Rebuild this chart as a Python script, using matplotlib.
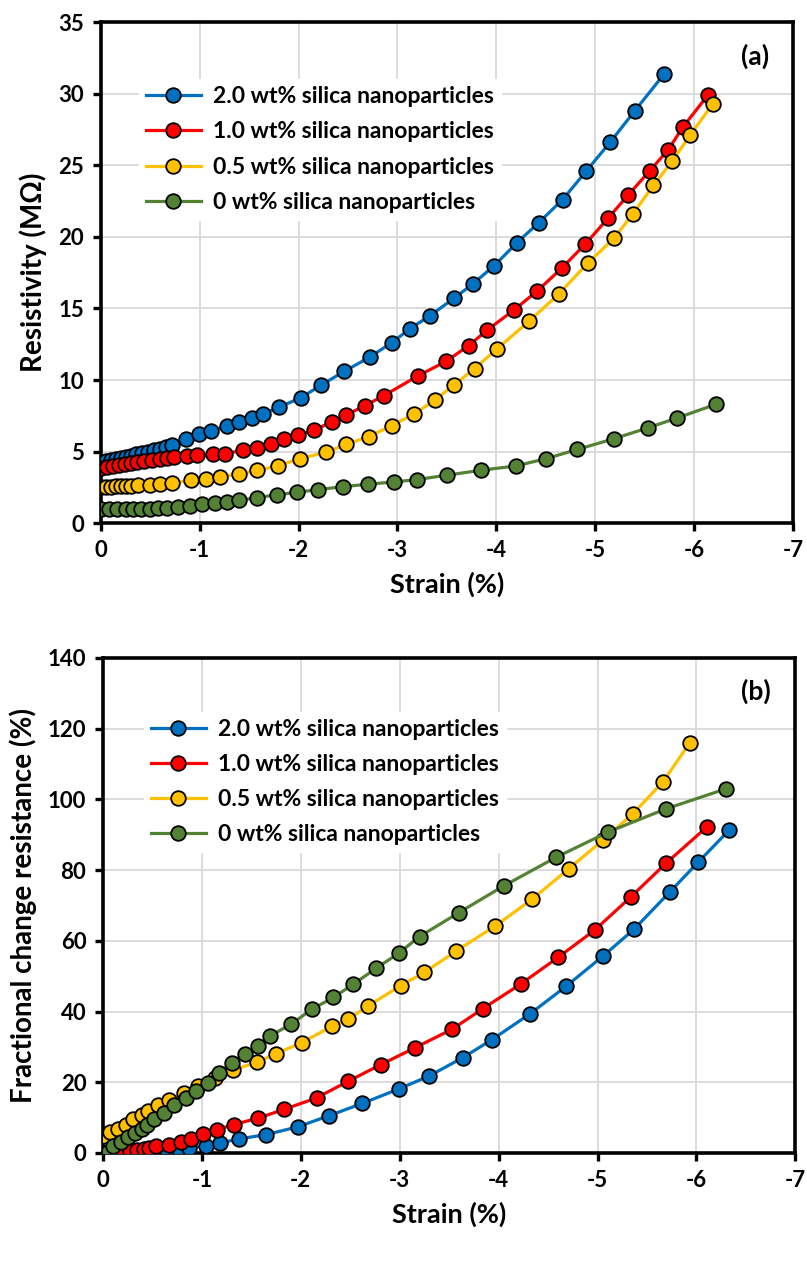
# Resistivity and fractional change in resistance vs. compressive strain
import matplotlib
matplotlib.use("Agg")
import matplotlib.pyplot as plt

plt.rcParams['font.family'] = ['Lato', 'DejaVu Sans']
plt.rcParams['font.weight'] = 'bold'
plt.rcParams['axes.unicode_minus'] = False

labels = ["2.0 wt% silica nanoparticles", "1.0 wt% silica nanoparticles",
          "0.5 wt% silica nanoparticles", "0 wt% silica nanoparticles"]
colors = ["#0070C0", "#FF0000", "#FFC000", "#548235"]

# ---- panel (a): resistivity (MOhm) ----
a_strain_20 = [0, -0.05, -0.1, -0.15, -0.2, -0.25, -0.3, -0.36, -0.42, -0.48, -0.54, -0.6,
               -0.66, -0.72, -0.86, -0.99, -1.11, -1.28, -1.4, -1.53, -1.64, -1.8, -2.02,
               -2.23, -2.46, -2.72, -2.94, -3.13, -3.33, -3.57, -3.76, -3.98, -4.21, -4.43,
               -4.67, -4.91, -5.15, -5.4, -5.7]
a_res_20 = [4.25, 4.32, 4.4, 4.48, 4.55, 4.63, 4.72, 4.8, 4.9, 5.0, 5.1, 5.2, 5.32, 5.44,
            5.86, 6.2, 6.45, 6.76, 7.04, 7.33, 7.64, 8.1, 8.75, 9.65, 10.6, 11.6, 12.6,
            13.6, 14.5, 15.7, 16.7, 18.0, 19.6, 21.0, 22.6, 24.6, 26.6, 28.8, 31.4]

a_strain_10 = [0, -0.06, -0.12, -0.18, -0.24, -0.3, -0.37, -0.44, -0.52, -0.6, -0.67, -0.74,
               -0.87, -0.97, -1.13, -1.26, -1.44, -1.58, -1.72, -1.85, -1.99, -2.16, -2.34,
               -2.48, -2.67, -2.86, -3.21, -3.49, -3.72, -3.91, -4.18, -4.41, -4.66, -4.9,
               -5.13, -5.33, -5.55, -5.74, -5.89, -6.14]
a_res_10 = [3.85, 3.9, 3.97, 4.03, 4.1, 4.17, 4.25, 4.33, 4.4, 4.47, 4.55, 4.63, 4.68, 4.73,
            4.8, 4.85, 5.1, 5.25, 5.5, 5.86, 6.15, 6.5, 7.1, 7.56, 8.2, 8.9, 10.3, 11.3,
            12.4, 13.5, 14.9, 16.2, 17.8, 19.5, 21.3, 22.9, 24.6, 26.1, 27.7, 29.9]

a_strain_05 = [0, -0.05, -0.1, -0.15, -0.2, -0.25, -0.3, -0.38, -0.5, -0.6, -0.72, -0.91,
               -1.06, -1.2, -1.4, -1.58, -1.79, -2.01, -2.28, -2.48, -2.71, -2.94, -3.17,
               -3.38, -3.57, -3.78, -4.01, -4.33, -4.63, -4.93, -5.19, -5.38, -5.59, -5.78,
               -5.96, -6.19]
a_res_05 = [2.55, 2.55, 2.56, 2.57, 2.58, 2.6, 2.62, 2.65, 2.7, 2.74, 2.8, 3.0, 3.12, 3.25,
            3.43, 3.69, 4.0, 4.5, 4.96, 5.5, 6.05, 6.8, 7.64, 8.6, 9.65, 10.8, 12.2, 14.1,
            16.0, 18.2, 19.9, 21.6, 23.6, 25.3, 27.1, 29.3]

a_strain_00 = [0, -0.08, -0.16, -0.25, -0.33, -0.41, -0.5, -0.58, -0.67, -0.78, -0.9, -1.02,
               -1.15, -1.28, -1.4, -1.58, -1.78, -1.98, -2.2, -2.45, -2.7, -2.97, -3.2, -3.5,
               -3.85, -4.2, -4.5, -4.82, -5.19, -5.53, -5.83, -6.22]
a_res_00 = [1.0, 1.0, 1.0, 1.0, 1.0, 1.0, 1.02, 1.05, 1.08, 1.15, 1.22, 1.32, 1.42, 1.5,
            1.6, 1.78, 1.98, 2.15, 2.35, 2.55, 2.72, 2.88, 3.05, 3.35, 3.7, 4.0, 4.5, 5.15,
            5.9, 6.65, 7.35, 8.3]

# ---- panel (b): fractional change in resistance (%) ----
b_strain_20 = [0, -0.05, -0.12, -0.2, -0.29, -0.37, -0.45, -0.55, -0.65, -0.77, -0.87, -1.04,
               -1.18, -1.38, -1.65, -1.97, -2.29, -2.62, -2.99, -3.3, -3.64, -3.93, -4.32,
               -4.68, -5.06, -5.37, -5.73, -6.02, -6.33]
b_frac_20 = [0, 0, 0, 0, 0.05, 0.1, 0.2, 0.47, 0.76, 1.1, 1.4, 2.1, 2.8, 4.0, 5.2, 7.4,
             10.6, 14.0, 18.1, 21.8, 27.0, 32.0, 39.4, 47.1, 55.8, 63.3, 73.8, 82.3, 91.3]

b_strain_10 = [0, -0.06, -0.13, -0.2, -0.27, -0.34, -0.41, -0.47, -0.54, -0.67, -0.79, -0.89,
               -1.01, -1.15, -1.32, -1.57, -1.83, -2.16, -2.48, -2.81, -3.15, -3.53, -3.84,
               -4.23, -4.6, -4.97, -5.34, -5.69, -6.11]
b_frac_10 = [0, 0.1, 0.25, 0.4, 0.6, 0.85, 1.1, 1.5, 1.9, 2.4, 3.0, 4.0, 5.5, 6.6, 8.0, 9.9,
             12.3, 15.6, 20.3, 25.0, 29.7, 35.0, 40.8, 47.9, 55.3, 63.0, 72.5, 81.9, 92.3]

b_strain_05 = [0, -0.07, -0.15, -0.23, -0.3, -0.39, -0.46, -0.56, -0.67, -0.82, -0.96, -1.13,
               -1.31, -1.56, -1.75, -2.01, -2.32, -2.48, -2.68, -3.01, -3.25, -3.57, -3.96,
               -4.34, -4.71, -5.06, -5.36, -5.66, -5.93]
b_frac_05 = [4.7, 5.8, 6.8, 8.0, 9.5, 10.7, 11.8, 13.5, 15.1, 17.0, 18.9, 21.3, 23.4, 25.7,
             28.1, 31.2, 35.9, 37.8, 41.6, 47.3, 51.1, 57.1, 64.1, 71.8, 80.4, 88.6, 96.0,
             104.9, 115.9]

b_strain_00 = [0, -0.05, -0.1, -0.18, -0.25, -0.32, -0.39, -0.45, -0.52, -0.62, -0.72, -0.84,
               -0.94, -1.06, -1.17, -1.3, -1.44, -1.57, -1.69, -1.9, -2.11, -2.33, -2.53,
               -2.76, -2.99, -3.2, -3.6, -4.05, -4.58, -5.11, -5.69, -6.3]
b_frac_00 = [0, 0.4, 1.9, 3.0, 4.5, 5.7, 6.8, 8.0, 9.5, 11.3, 13.7, 15.6, 17.5, 19.8, 22.7,
             25.5, 27.9, 30.2, 33.1, 36.4, 40.6, 44.0, 47.7, 52.2, 56.5, 61.2, 68.0, 75.5,
             83.6, 90.8, 97.3, 103.0]

x_ticks = [0, -1, -2, -3, -4, -5, -6, -7]

fig = plt.figure(figsize=(8.07, 12.76), dpi=100)
ax_a = fig.add_axes([0.125, 0.590, 0.8575, 0.3926])
ax_b = fig.add_axes([0.1276, 0.0964, 0.858, 0.388])

panels = [
    (ax_a, [(a_strain_20, a_res_20), (a_strain_10, a_res_10),
            (a_strain_05, a_res_05), (a_strain_00, a_res_00)],
     (0, 35), range(0, 36, 5), "Resistivity (M\u03a9)", "(a)", (0.055, 0.886)),
    (ax_b, [(b_strain_20, b_frac_20), (b_strain_10, b_frac_10),
            (b_strain_05, b_frac_05), (b_strain_00, b_frac_00)],
     (0, 140), range(0, 141, 20), "Fractional change resistance (%)", "(b)", (0.059, 0.891)),
]

draw_order = [0, 1, 3, 2]
for ax, series, ylim, yticks, ylabel, tag, leg_pos in panels:
    handles = [None] * 4
    for i in draw_order:
        xs, ys = series[i]
        h, = ax.plot(xs, ys, color=colors[i], lw=2.3, marker='o', ms=10.5,
                     mfc=colors[i], mec='black', mew=1.3, label=labels[i], zorder=3 + i)
        handles[i] = h
    ax.set_xlim(0, -7)
    ax.set_ylim(*ylim)
    ax.set_xticks(x_ticks)
    ax.set_xticklabels([str(t) for t in x_ticks])
    ax.set_yticks(list(yticks))
    ax.grid(True, color='#d9d9d9', lw=1.3, zorder=0)
    ax.set_axisbelow(True)
    for s in ax.spines.values():
        s.set_linewidth(2.6)
        s.set_color('black')
    ax.tick_params(direction='out', length=6, width=2.4, labelsize=16, pad=6)
    ax.set_xlabel("Strain (%)", fontsize=19.5, fontweight='bold', labelpad=8)
    ax.set_ylabel(ylabel, fontsize=20, fontweight='bold', labelpad=8)
    ax.text(0.965, 0.932, tag, transform=ax.transAxes, ha='right', va='center',
            fontsize=19, fontweight='bold')
    leg = ax.legend(handles=handles, loc='upper left', bbox_to_anchor=leg_pos,
                    borderaxespad=0, frameon=True, fancybox=False, edgecolor='white',
                    framealpha=1, prop={'weight': 'bold', 'size': 16.5}, handlelength=2.4,
                    handletextpad=0.55, labelspacing=0.62, borderpad=0.3)
    leg.set_zorder(2)

fig.savefig("out.png", dpi=100)
